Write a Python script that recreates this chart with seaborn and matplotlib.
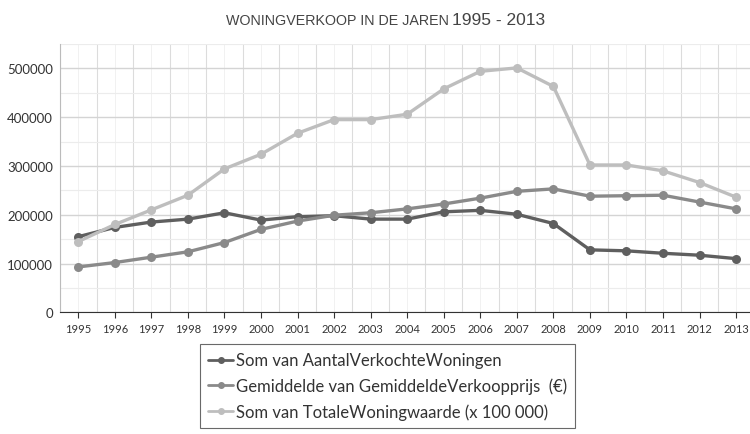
import numpy as np
import pandas as pd
import matplotlib
matplotlib.use("Agg")
import matplotlib.pyplot as plt
from matplotlib.ticker import MultipleLocator
import seaborn as sns

# Data
jaren = list(range(1995, 2014))
aantal_verkocht = [155000, 174000, 185000, 191000, 204000, 189000, 196000, 198000, 191000,
                   191000, 206000, 209000, 201000, 182000, 128000, 126000, 121000, 117000, 110000]
gem_verkoopprijs = [93000, 102000, 113000, 124000, 143000, 170000, 187000, 199000, 204000,
                    212000, 222000, 234000, 248000, 253000, 238000, 239000, 240000, 226000, 212000]
totale_waarde = [145000, 180000, 210000, 240000, 294000, 324000, 367000, 395000, 395000,
                 406000, 458000, 494000, 501000, 463000, 302000, 302000, 290000, 266000, 236000]

series_namen = ["Som van AantalVerkochteWoningen",
                "Gemiddelde van GemiddeldeVerkoopprijs  (€)",
                "Som van TotaleWoningwaarde (x 100 000)"]
kleuren = ["#5f5f5f", "#8a8a8a", "#bebebe"]

df = pd.DataFrame({"Jaar": jaren * 3,
                   "Waarde": aantal_verkocht + gem_verkoopprijs + totale_waarde,
                   "Reeks": [series_namen[0]] * 19 + [series_namen[1]] * 19 + [series_namen[2]] * 19})

sns.set_style("white")
plt.rcParams['font.family'] = ['Lato', 'DejaVu Sans']

fig = plt.figure(figsize=(7.5, 4.35), dpi=100)
ax = fig.add_axes([60 / 750, 1 - 313.3 / 435, 690 / 750, (313.3 - 45) / 435])

sns.lineplot(data=df, x="Jaar", y="Waarde", hue="Reeks", palette=kleuren,
             marker="o", markersize=6.5, markeredgewidth=0, linewidth=2.4, ax=ax, legend=False)

ax.set_xlim(1994.5, 2013.38)
ax.set_ylim(0, 550000)
ax.set_xticks(jaren)
ax.set_xticklabels([str(j) for j in jaren], fontsize=8, color="#333333")
ax.yaxis.set_major_locator(MultipleLocator(100000))
ax.yaxis.set_minor_locator(MultipleLocator(50000))
ax.set_yticks(range(0, 600000, 100000))
ax.set_yticklabels([str(v) for v in range(0, 600000, 100000)], fontsize=9.5, color="#333333")
ax.xaxis.set_minor_locator(MultipleLocator(1, offset=0.5))

ax.grid(which="major", axis="y", color="#d4d4d4", linewidth=1.0)
ax.grid(which="minor", axis="y", color="#ececec", linewidth=0.8)
ax.grid(which="minor", axis="x", color="#dcdcdc", linewidth=0.8)
ax.grid(which="major", axis="x", color="#efefef", linewidth=0.6)
ax.set_axisbelow(True)

for s in ["top", "right"]:
    ax.spines[s].set_visible(False)
ax.spines["left"].set_color("#bbbbbb")
ax.spines["bottom"].set_color("#333333")
ax.tick_params(axis="x", which="major", length=4, width=0.8, color="#333333", direction="out", bottom=True)
ax.tick_params(axis="x", which="minor", length=0)
ax.tick_params(axis="y", which="both", length=0, pad=5)
ax.set_xlabel("")
ax.set_ylabel("")

# Titel in twee delen
fig.text(449 / 750, 1 - 25 / 435, "WONINGVERKOOP IN DE JAREN", ha="right", va="baseline",
         fontsize=10.3, color="#444444", family=["Liberation Sans"])
fig.text(452 / 750, 1 - 25 / 435, "1995 - 2013", ha="left", va="baseline",
         fontsize=12.5, color="#444444", family=["Liberation Sans"])

# Legenda
handles = [plt.Line2D([], [], color=k, marker="o", markersize=4, linewidth=2) for k in kleuren]
leg = fig.legend(handles, series_namen, loc="upper left", bbox_to_anchor=(200 / 750, 1 - 345 / 435),
                 fontsize=12, frameon=True, fancybox=False, handlelength=1.5, handletextpad=0.15,
                 labelspacing=0.55, borderpad=0.5, borderaxespad=0, labelcolor="#333333")
leg.get_frame().set_edgecolor("#444444")
leg.get_frame().set_linewidth(0.8)

fig.savefig("out.png", dpi=100)
